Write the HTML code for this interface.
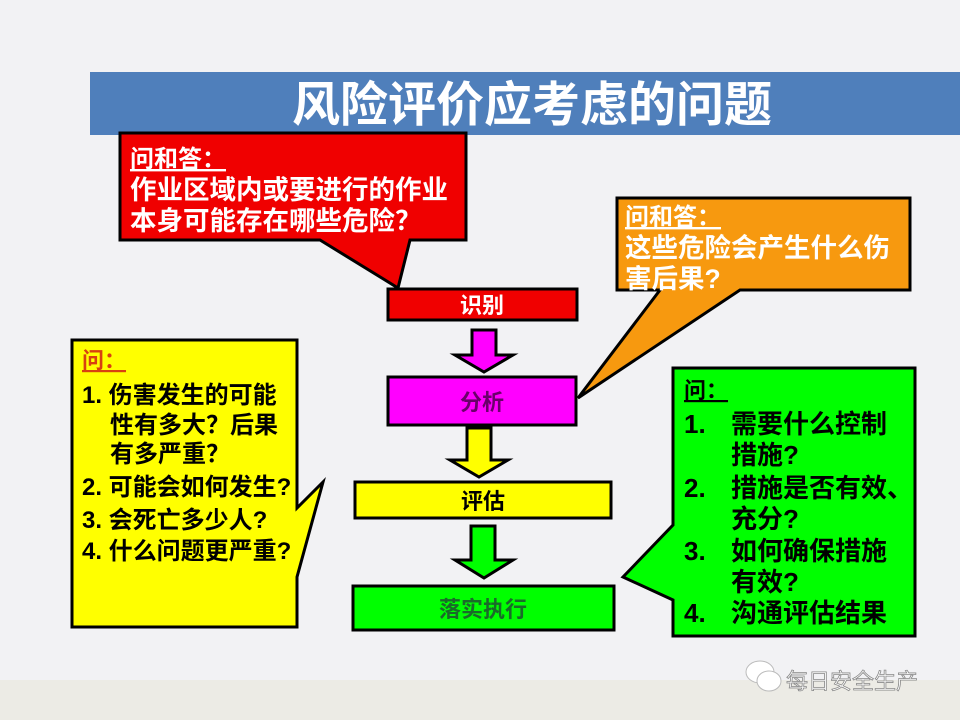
<!DOCTYPE html>
<html><head><meta charset="utf-8"><style>
body{margin:0;background:#f2f2f4;}
svg{display:block;font-family:"Liberation Sans","Noto Sans CJK SC","WenQuanYi Zen Hei",sans-serif;font-weight:bold;}
</style></head><body>
<svg width="960" height="720" viewBox="0 0 960 720" xmlns="http://www.w3.org/2000/svg">
<rect x="0" y="0" width="960" height="720" fill="#f2f2f4"/>
<rect x="0" y="680" width="960" height="40" fill="#ecebe5"/>
<rect x="90" y="72" width="870" height="63" fill="#4f7fbb"/>
<text x="532" y="121" font-size="48" fill="#fff" text-anchor="middle">风险评价应考虑的问题</text>

<!-- red callout -->
<path d="M120,133 H466 V240 H410 L398,288 L320,240 H120 Z" fill="#f00000" stroke="#000" stroke-width="3" stroke-linejoin="miter"/>
<text x="130" y="167" font-size="24" fill="#fff" text-decoration="underline">问和答：</text>
<text x="130" y="199" font-size="26.5" fill="#fff">作业区域内或要进行的作业</text>
<text x="130" y="230" font-size="26.5" fill="#fff">本身可能存在哪些危险？</text>

<!-- orange callout -->
<path d="M617,198 H910 V290 H740 L578,398 L660,290 H617 Z" fill="#f7990f" stroke="#000" stroke-width="3"/>
<text x="625" y="225" font-size="24" fill="#fff" text-decoration="underline">问和答：</text>
<text x="625" y="257" font-size="26.5" fill="#fff">这些危险会产生什么伤</text>
<text x="625" y="288" font-size="26.5" fill="#fff">害后果?</text>

<!-- yellow callout -->
<path d="M72,340 H297 V508 L323,482 L297,577 V627 H72 Z" fill="#ffff00" stroke="#000" stroke-width="3"/>
<text x="82" y="368" font-size="22" fill="#d84010" text-decoration="underline">问：</text>
<g font-size="24" fill="#000">
<text x="82" y="403">1. 伤害发生的可能</text>
<text x="110" y="433">性有多大？后果</text>
<text x="110" y="462">有多严重？</text>
<text x="82" y="495">2. 可能会如何发生?</text>
<text x="82" y="528">3. 会死亡多少人?</text>
<text x="82" y="559">4. 什么问题更严重?</text>
</g>

<!-- green callout -->
<path d="M673,368 H915 V636 H673 V600 L623,577 L673,525 Z" fill="#00ff00" stroke="#000" stroke-width="3"/>
<text x="684" y="398" font-size="22" fill="#000" text-decoration="underline">问：</text>
<g font-size="26" fill="#000">
<text x="684" y="433">1.</text><text x="731" y="433">需要什么控制</text>
<text x="731" y="464">措施?</text>
<text x="684" y="497">2.</text><text x="731" y="497">措施是否有效、</text>
<text x="731" y="528">充分?</text>
<text x="684" y="560">3.</text><text x="731" y="560">如何确保措施</text>
<text x="731" y="591">有效?</text>
<text x="684" y="622">4.</text><text x="731" y="622">沟通评估结果</text>
</g>

<!-- flow boxes -->
<rect x="388" y="289" width="189" height="31" fill="#f00000" stroke="#000" stroke-width="3"/>
<text x="482" y="313" font-size="22" fill="#fff" text-anchor="middle">识别</text>
<path d="M472,330 H496 V355 H513 L484,372 L455,355 H472 Z" fill="#ff00ff" stroke="#000" stroke-width="3"/>
<rect x="388" y="377" width="188" height="48" fill="#ff00ff" stroke="#000" stroke-width="3"/>
<text x="482" y="410" font-size="22" fill="#6a006a" text-anchor="middle">分析</text>
<path d="M467,428 H491 V460 H508 L479,477 L450,460 H467 Z" fill="#ffff00" stroke="#000" stroke-width="3"/>
<rect x="355" y="482" width="256" height="36" fill="#ffff00" stroke="#000" stroke-width="3"/>
<text x="483" y="509" font-size="22" fill="#000" text-anchor="middle">评估</text>
<path d="M471,526 H495 V560 H513 L484,578 L455,560 H471 Z" fill="#00ff00" stroke="#000" stroke-width="3"/>
<rect x="353" y="586" width="261" height="44" fill="#00ff00" stroke="#000" stroke-width="3"/>
<text x="483" y="617" font-size="22" fill="#1a6a2a" text-anchor="middle">落实执行</text>

<!-- watermark -->
<ellipse cx="760" cy="672" rx="14" ry="11" fill="#fff" stroke="#bbb" stroke-width="1"/>
<ellipse cx="769" cy="681" rx="12" ry="10" fill="#fff" stroke="#bbb" stroke-width="1"/>
<text x="786" y="689" font-size="22" font-weight="normal" fill="#fff" stroke="#888" stroke-width="0.8">每日安全生产</text>
</svg>
</body></html>
